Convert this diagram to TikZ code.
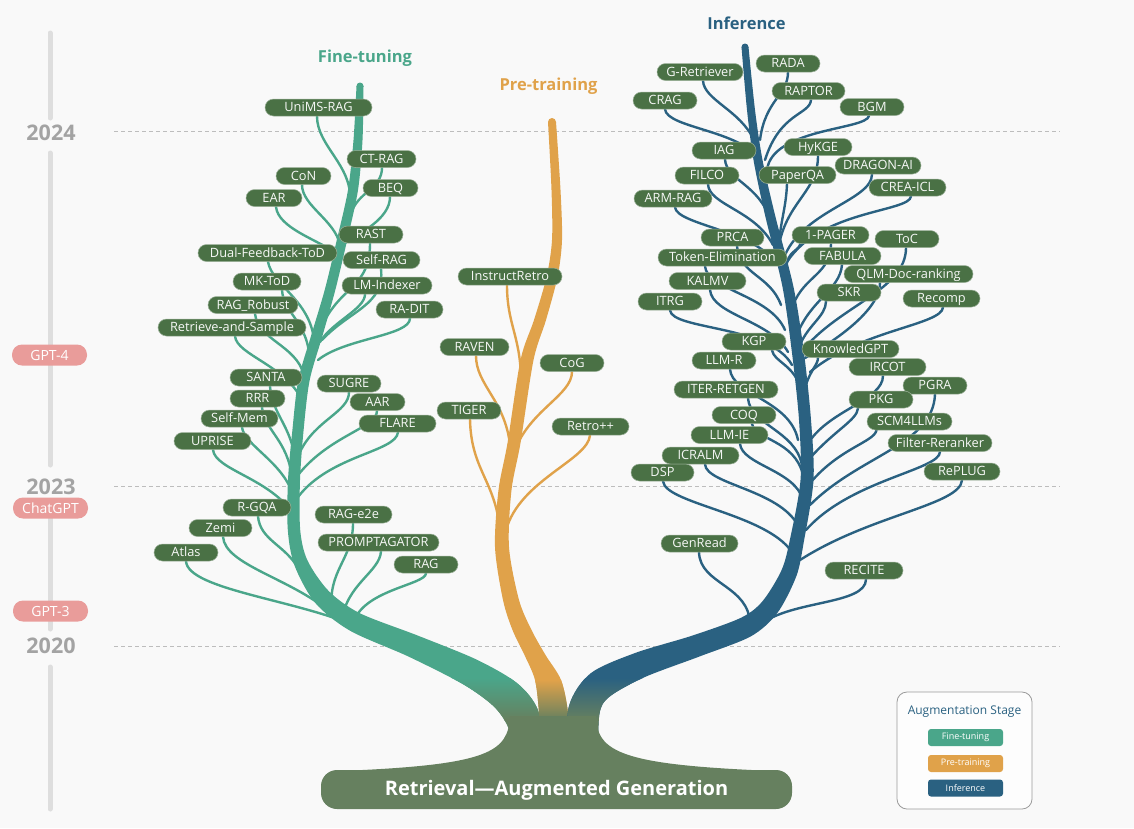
\documentclass[tikz,border=0pt]{standalone}
\usepackage{fontspec}
\setmainfont{Open Sans}
\pgfdeclarelayer{bg}
\pgfsetlayers{bg,main}
\definecolor{pillc}{HTML}{4A7145}
\definecolor{tealc}{HTML}{4AA68A}
\definecolor{orangec}{HTML}{E0A24A}
\definecolor{bluec}{HTML}{2A6181}
\definecolor{basec}{HTML}{66805F}
\definecolor{pinkc}{HTML}{E99C9A}
\definecolor{linec}{HTML}{DEDEDE}
\definecolor{yearc}{HTML}{A3A3A3}
\definecolor{dashc}{HTML}{BDBDBD}
\definecolor{bgc}{HTML}{F9F9F9}
\definecolor{legc}{HTML}{9A9A9A}
\newcommand\mybranch[6]{\coordinate (j#2) at (#6); \draw[#1] ([xshift=#3pt]#2.south) .. controls (#4) and (#5) .. (j#2);}
\newcommand\pnode[5]{\node[pill, minimum width=#4pt] (#1) at (#2,#3) {#5};}
\tikzset{
 pill/.style={fill=pillc, draw=pillc!55!white, line width=0.5pt, rounded corners=8.5pt, minimum height=17pt, inner sep=0pt, text=white!95!pillc, font=\fontsize{12.8}{14}\selectfont, text height=9.2pt, text depth=0.5pt},
 cft/.style={draw=tealc, line width=2.4pt, line cap=round},
 cpt/.style={draw=orangec, line width=2.4pt, line cap=round},
 cin/.style={draw=bluec, line width=2.4pt, line cap=round},
 milestone/.style={fill=pinkc, rounded corners=10pt, minimum width=75pt, minimum height=21pt, inner sep=0pt, text=white, font=\fontsize{14}{16}\selectfont},
 yearlab/.style={text=yearc, font=\fontsize{21.5}{23}\selectfont\bfseries},
 legpill/.style={rounded corners=3pt, minimum width=75pt, minimum height=17pt, inner sep=0pt, text=white, font=\fontsize{9}{10}\selectfont},
 header/.style={font=\fontsize{16.5}{18}\selectfont\bfseries},
 tl/.style={draw=linec, line width=5pt, line cap=round},
 dashl/.style={draw=dashc, line width=1pt, dash pattern=on 4pt off 3pt},
}
\def\tealpath{plot[smooth, tension=0.5] coordinates {(356.5,86) (353.5,140) (348,190) (336.8,240) (324.7,290) (311.3,335) (298.3,380) (292.4,430) (288,480) (287.8,530) (294.6,565.7) (315.4,603.1) (350.2,630.8) (408.4,656.5) (463.4,684.4) (494.3,706.9) (509.2,729.9) (512,760)} -- plot[smooth, tension=0.5] coordinates {(548,760) (538,710.1) (517,683.1) (476.6,659.6) (417.6,635.5) (359.8,613.2) (328.6,590.9) (307.4,560.3) (300.2,530) (300,480) (303.6,430) (309.7,380) (322.7,335) (335.3,290) (347.2,240) (358,190) (362.5,140) (363.5,86)} -- cycle}
\def\orangepath{plot[smooth, tension=0.5] coordinates {(548,122) (551.5,190) (552,240) (546.5,277) (534,320) (520.5,360) (507.5,443) (498.5,490) (495,547) (503,600) (512.5,630) (524.5,655) (535,680) (539,713) (541,760)} -- plot[smooth, tension=0.5] coordinates {(570,760) (568,713) (561,680) (545.5,655) (531.5,630) (519,600) (509,547) (511.5,490) (520.5,443) (533.5,360) (546,320) (557.5,277) (562,240) (560.5,190) (556,122)} -- cycle}
\def\bluepath{plot[smooth, tension=0.5] coordinates {(741.5,47) (747,110) (753.5,160) (765,215) (782.5,287) (792,353) (799,420) (800.5,480) (790.1,538.7) (781.6,570) (762.6,601.1) (741.1,617.7) (692.3,635.6) (635.1,653) (590.5,673.4) (569,706) (566,760)} -- plot[smooth, tension=0.5] coordinates {(598,760) (599.4,714) (609.5,696.6) (644.9,677) (699.7,656.4) (750.9,636.3) (777.4,612.9) (796.4,576) (803.9,541.3) (813.5,480) (811,420) (804,353) (793.5,287) (775,215) (762.5,160) (755,110) (748.5,47)} -- cycle}
\begin{document}
\begin{tikzpicture}[x=1pt,y=-1pt]
\useasboundingbox (0,0) rectangle (1134,828);
% ---------- nodes: Fine-tuning
\pnode{unims}{318.5}{107.5}{107}{UniMS-RAG}
\pnode{ctrag}{381.5}{159}{69}{CT-RAG}
\pnode{con}{303.5}{176}{55}{CoN}
\pnode{beq}{390.5}{188}{55}{BEQ}
\pnode{ear}{274}{198}{56}{EAR}
\pnode{rast}{371}{234.5}{64}{RAST}
\pnode{dualfb}{267.5}{253}{139}{Dual-Feedback-ToD}
\pnode{selfrag}{381.5}{260}{77}{Self-RAG}
\pnode{mktod}{267}{281.5}{68}{MK-ToD}
\pnode{lmidx}{387}{285.5}{90}{LM-Indexer}
\pnode{ragrob}{253}{305}{90}{RAG\_Robust}
\pnode{radit}{409.5}{309.5}{67}{RA-DIT}
\pnode{rands}{232}{327.5}{148}{Retrieve-and-Sample}
\pnode{santa}{266}{377.5}{72}{SANTA}
\pnode{sugre}{349}{383.5}{64}{SUGRE}
\pnode{rrr}{257.5}{398.5}{55}{RRR}
\pnode{aar}{377.5}{402}{55}{AAR}
\pnode{selfmem}{239.5}{418.5}{77}{Self-Mem}
\pnode{flare}{397.5}{423.5}{77}{FLARE}
\pnode{uprise}{212.5}{441}{77}{UPRISE}
\pnode{rgqa}{257}{507.5}{68}{R-GQA}
\pnode{rage2e}{353.5}{514.5}{77}{RAG-e2e}
\pnode{zemi}{220.5}{528}{63}{Zemi}
\pnode{prompt}{378.5}{542.5}{121}{PROMPTAGATOR}
\pnode{atlas}{186}{552.5}{64}{Atlas}
\pnode{rag}{426}{564.5}{64}{RAG}
% ---------- nodes: Pre-training
\pnode{instr}{510}{276.5}{104}{InstructRetro}
\pnode{raven}{474.5}{347}{69}{RAVEN}
\pnode{cog}{572}{363}{64}{CoG}
\pnode{tiger}{469}{410.5}{64}{TIGER}
\pnode{retropp}{590.5}{426.5}{77}{Retro++}
% ---------- nodes: Inference
\pnode{rada}{788}{63.5}{64}{RADA}
\pnode{gret}{700}{72}{86}{G-Retriever}
\pnode{raptor}{808.5}{91}{73}{RAPTOR}
\pnode{crag}{665}{100.5}{64}{CRAG}
\pnode{bgm}{872}{107}{64}{BGM}
\pnode{hykge}{818}{147}{68}{HyKGE}
\pnode{iag}{724}{150.5}{64}{IAG}
\pnode{dragon}{878}{165.5}{86}{DRAGON-AI}
\pnode{filco}{707}{175.5}{64}{FILCO}
\pnode{paperqa}{797.5}{175}{77}{PaperQA}
\pnode{crea}{907.5}{187.5}{77}{CREA-ICL}
\pnode{armrag}{673}{198.5}{78}{ARM-RAG}
\pnode{onepager}{830.5}{235}{77}{1-PAGER}
\pnode{prca}{732.5}{237.5}{63}{PRCA}
\pnode{toc}{907}{239}{64}{ToC}
\pnode{tokel}{722.5}{257.5}{129}{Token-Elimination}
\pnode{fabula}{842.5}{256}{77}{FABULA}
\pnode{qlm}{908.5}{274}{129}{QLM-Doc-ranking}
\pnode{kalmv}{707.5}{281}{77}{KALMV}
\pnode{skr}{849}{292.5}{64}{SKR}
\pnode{itrg}{670}{301.5}{64}{ITRG}
\pnode{recomp}{941.5}{298.5}{77}{Recomp}
\pnode{kgp}{754}{341.5}{64}{KGP}
\pnode{knowgpt}{850.5}{349}{97}{KnowledGPT}
\pnode{llmr}{724}{360.5}{64}{LLM-R}
\pnode{ircot}{887.5}{367}{77}{IRCOT}
\pnode{pgra}{935}{385.5}{64}{PGRA}
\pnode{iter}{726}{389.5}{104}{ITER-RETGEN}
\pnode{pkg}{881}{399.5}{64}{PKG}
\pnode{coq}{744}{415}{64}{COQ}
\pnode{scm}{909.5}{421.5}{85}{SCM4LLMs}
\pnode{llmie}{729.5}{435}{77}{LLM-IE}
\pnode{filter}{940}{443}{104}{Filter-Reranker}
\pnode{icralm}{700.5}{455.5}{77}{ICRALM}
\pnode{dsp}{662.5}{472.5}{63}{DSP}
\pnode{replug}{962}{471.5}{76}{RePLUG}
\pnode{genread}{699.5}{543.5}{77}{GenRead}
\pnode{recite}{864}{570.5}{78}{RECITE}
% ---------- headers
\node[header, text=tealc] (hft) at (365,58) {Fine-tuning};
\node[header, text=orangec] (hpt) at (548.5,86.5) {Pre-training};
\node[header, text=bluec] (hin) at (746.5,23.5) {Inference};
% ---------- timeline labels
\node[yearlab] (y24) at (51,132.5) {2024};
\node[yearlab] (y23) at (51,487) {2023};
\node[yearlab] (y20) at (51,646) {2020};
\node[milestone] (gpt4) at (49.5,355) {GPT-4};
\node[milestone] (chatgpt) at (50.5,508) {ChatGPT};
\node[milestone] (gpt3) at (50.5,611) {GPT-3};
% ---------- root title
\node[text=white, font=\fontsize{20}{22}\selectfont\bfseries] (root) at (556.5,790) {Retrieval—Augmented Generation};
% ---------- legend
\node[text=bluec, font=\fontsize{12}{14}\selectfont] (legtitle) at (964.5,712) {Augmentation Stage};
\node[legpill, fill=tealc] (legft) at (965.5,737.5) {Fine-tuning};
\node[legpill, fill=orangec] (legpt) at (965.5,763.5) {Pre-training};
\node[legpill, fill=bluec] (legin) at (965.5,788) {Inference};

\begin{pgfonlayer}{bg}
\fill[bgc] (0,0) rectangle (1134,828);
\draw[dashl] (114,131) -- (1060,131);
\draw[dashl] (114,486) -- (1060,486);
\draw[dashl] (114,646) -- (1060,646);
\draw[tl] (50,33) -- (50,118);
\draw[tl] (50,153) -- (50,465);
\draw[tl] (50,510) -- (50,629);
\draw[tl] (50,667) -- (50,809);
% ---------- Fine-tuning branches
\mybranch{cft}{unims}{-1.5}{317,146}{352,165}{350,200}
\mybranch{cft}{ctrag}{0.5}{382,189}{357,192}{351,214}
\mybranch{cft}{beq}{-0.5}{390,219}{360,233}{342,245}
\mybranch{cft}{con}{-1.5}{302,206}{335,220}{340,245}
\mybranch{cft}{ear}{2}{278,228}{318,240}{336,253}
\mybranch{cft}{rast}{-1}{370,285}{345,285}{326,318}
\mybranch{cft}{selfrag}{-0.5}{385,305}{350,310}{322,340}
\mybranch{cft}{lmidx}{-22}{365,309}{332,322}{320,342}
\mybranch{cft}{radit}{0.5}{410,336}{345,338}{318,360}
\mybranch{cft}{dualfb}{0.5}{272,285}{310,300}{314,340}
\mybranch{cft}{mktod}{15}{284,315}{308,320}{310,362}
\mybranch{cft}{ragrob}{2}{258,340}{296,345}{304,375}
\mybranch{cft}{rands}{3}{237,355}{285,365}{302,400}
\mybranch{cft}{santa}{4}{272,415}{292,425}{296,465}
\mybranch{cft}{rrr}{4.5}{264,430}{288,440}{292,478}
\mybranch{cft}{selfmem}{2.5}{244,445}{283,462}{293,495}
\mybranch{cft}{uprise}{0.5}{215,470}{270,478}{294,515}
\mybranch{cft}{rgqa}{1}{260,540}{285,545}{298,568}
\mybranch{cft}{zemi}{2.5}{225,565}{290,578}{330,612}
\mybranch{cft}{atlas}{0}{188,590}{300,600}{360,628}
\mybranch{cft}{sugre}{0}{349,412}{315,420}{300,452}
\mybranch{cft}{aar}{-0.5}{377,428}{330,435}{298,475}
\mybranch{cft}{flare}{0.5}{396,452}{330,455}{298,497}
\mybranch{cft}{rage2e}{-0.5}{353,560}{327,570}{332,612}
\mybranch{cft}{prompt}{2.5}{380,572}{345,585}{342,622}
\mybranch{cft}{rag}{0}{426,585}{360,590}{353,625}
% ---------- Pre-training branches
\mybranch{cpt}{instr}{-3}{507,330}{525,340}{520,400}
\mybranch{cpt}{raven}{1.5}{476,385}{505,400}{510,445}
\mybranch{cpt}{cog}{0}{572,395}{530,410}{515,450}
\mybranch{cpt}{tiger}{1}{471,470}{495,480}{500,530}
\mybranch{cpt}{retropp}{-0.5}{588,460}{520,480}{506,530}
% ---------- Inference branches
\mybranch{cin}{gret}{3}{704,100}{740,110}{754,140}
\mybranch{cin}{crag}{0}{667,128}{740,130}{760,160}
\mybranch{cin}{rada}{0}{788,95}{765,100}{760,140}
\mybranch{cin}{raptor}{2.5}{810,115}{780,112}{765,160}
\mybranch{cin}{bgm}{-3}{867,130}{772,128}{767,170}
\mybranch{cin}{hykge}{0}{818,190}{790,200}{780,240}
\mybranch{cin}{iag}{1}{726,180}{760,185}{770,220}
\mybranch{cin}{filco}{1}{709,205}{755,210}{773,245}
\mybranch{cin}{paperqa}{-10.5}{786,210}{780,220}{778,255}
\mybranch{cin}{dragon}{-6}{872,200}{805,210}{785,255}
\mybranch{cin}{crea}{3.5}{910,212}{820,210}{787,262}
\mybranch{cin}{armrag}{2}{677,225}{755,230}{778,265}
\mybranch{cin}{prca}{4.5}{740,275}{770,275}{781,305}
\mybranch{cin}{tokel}{-17.5}{707,290}{770,295}{785,330}
\mybranch{cin}{kalmv}{2.5}{712,315}{770,320}{788,352}
\mybranch{cin}{itrg}{0}{672,330}{770,325}{792,365}
\mybranch{cin}{onepager}{0.5}{830,275}{805,275}{793,305}
\coordinate (jonepagerb) at (786,268);
\draw[cin] ([xshift=-30pt]onepager.south) .. controls (798,252) and (788,250) .. (jonepagerb);
\mybranch{cin}{fabula}{-0.5}{840,290}{810,300}{797,335}
\mybranch{cin}{skr}{-23}{826,316}{808,325}{800,345}
\mybranch{cin}{toc}{-1}{906,290}{840,305}{803,350}
\mybranch{cin}{qlm}{-28.5}{880,307}{845,335}{805,358}
\mybranch{cin}{recomp}{1.5}{942,325}{860,330}{810,372}
\mybranch{cin}{kgp}{18}{774,362}{795,365}{801,390}
\mybranch{cin}{knowgpt}{-32.5}{818,365}{810,370}{805,388}
\mybranch{cin}{ircot}{-4.5}{883,400}{830,410}{809,442}
\mybranch{cin}{pkg}{-23}{857,420}{835,430}{810,458}
\mybranch{cin}{pgra}{0}{933,445}{860,455}{810,505}
\mybranch{cin}{scm}{-33}{874,442}{840,448}{811,482}
\mybranch{cin}{filter}{0}{940,470}{850,480}{806,530}
\mybranch{cin}{replug}{0}{960,505}{870,515}{800,560}
\mybranch{cin}{llmr}{6}{732,395}{790,400}{798,440}
\mybranch{cin}{iter}{22}{750,425}{795,430}{802,465}
\mybranch{cin}{coq}{8}{755,440}{795,440}{803,475}
\mybranch{cin}{llmie}{10.5}{742,465}{795,470}{803,500}
\mybranch{cin}{icralm}{4.5}{706,485}{785,490}{800,530}
\mybranch{cin}{dsp}{0.5}{665,505}{780,515}{796,560}
\mybranch{cin}{genread}{-0.5}{700,585}{750,585}{750,625}
\mybranch{cin}{recite}{2}{866,605}{790,600}{760,625}
% ---------- trunks
\fill[tealc] \tealpath;
\fill[tealc] (360,86) circle (3.5);
\begin{scope}
\clip \tealpath;
\shade[top color=tealc, bottom color=basec] (280,678) rectangle (560,720);
\fill[basec] (280,719) rectangle (560,770);
\end{scope}
\fill[orangec] \orangepath;
\fill[orangec] (552,122) circle (4);
\begin{scope}
\clip \orangepath;
\shade[top color=orangec, bottom color=basec] (480,680) rectangle (600,720);
\fill[basec] (480,719) rectangle (600,770);
\end{scope}
\fill[bluec] \bluepath;
\fill[bluec] (745,47) circle (3.5);
\begin{scope}
\clip \bluepath;
\shade[top color=bluec, bottom color=basec] (540,678) rectangle (700,720);
\fill[basec] (540,719) rectangle (700,770);
\end{scope}
% ---------- root base
\fill[basec] (340,771) .. controls (490,765) and (508,752) .. (510,716) -- (596,716) .. controls (597,752) and (620,765) .. (775,771) -- cycle;
\fill[basec, rounded corners=16pt] (321,770) rectangle (792,809);
% ---------- legend box
\draw[legc, fill=white!60!bgc, rounded corners=10pt, line width=0.8pt] (897,692) rectangle (1032,809);
\end{pgfonlayer}
\end{tikzpicture}
\end{document}
